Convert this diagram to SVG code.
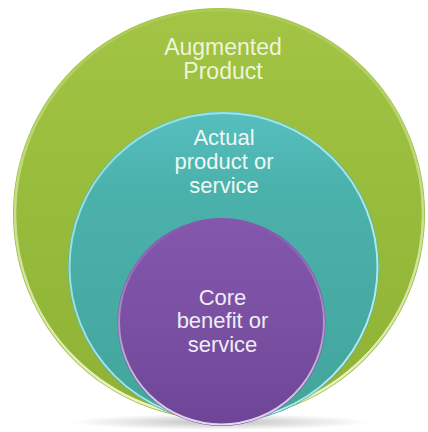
<svg xmlns="http://www.w3.org/2000/svg" width="428" height="432" viewBox="0 0 428 432">
  <defs>
    <linearGradient id="gGreen" x1="0" y1="0" x2="0" y2="1">
      <stop offset="0" stop-color="#a3c444"/>
      <stop offset="0.5" stop-color="#97bb3b"/>
      <stop offset="1" stop-color="#8fb236"/>
    </linearGradient>
    <linearGradient id="gTeal" x1="0" y1="0" x2="0" y2="1">
      <stop offset="0" stop-color="#56bfbf"/>
      <stop offset="0.25" stop-color="#4bb1ab"/>
      <stop offset="1" stop-color="#43a59c"/>
    </linearGradient>
    <linearGradient id="gPurple" x1="0" y1="0" x2="0" y2="1">
      <stop offset="0" stop-color="#8457ad"/>
      <stop offset="0.5" stop-color="#7a50a3"/>
      <stop offset="1" stop-color="#6e4596"/>
    </linearGradient>
    <linearGradient id="rimGreen" x1="0" y1="0" x2="0" y2="1">
      <stop offset="0" stop-color="#d8ecb0" stop-opacity="0.15"/>
      <stop offset="0.4" stop-color="#eef8c8" stop-opacity="0.5"/>
      <stop offset="1" stop-color="#f2fad0" stop-opacity="0.95"/>
    </linearGradient>
    <linearGradient id="rimTeal" x1="0" y1="0" x2="1" y2="1">
      <stop offset="0" stop-color="#9fe8f0" stop-opacity="0.8"/>
      <stop offset="1" stop-color="#c8f4f8" stop-opacity="0.9"/>
    </linearGradient>
    <linearGradient id="rimPurple" x1="0" y1="0" x2="0" y2="1">
      <stop offset="0" stop-color="#c9b3e0" stop-opacity="0"/>
      <stop offset="0.45" stop-color="#d8c8ec" stop-opacity="0.5"/>
      <stop offset="1" stop-color="#ece2f6" stop-opacity="0.95"/>
    </linearGradient>
    <radialGradient id="shadow" cx="0.5" cy="0.5" r="0.5">
      <stop offset="0" stop-color="#000" stop-opacity="0.25"/>
      <stop offset="1" stop-color="#000" stop-opacity="0"/>
    </radialGradient>
  </defs>
  <style>
    .lbl { font-family: "Liberation Sans", Arial, sans-serif; font-size: 22px; text-anchor: middle; }
    .big { font-size: 23px; }
    .g { fill: #eef4d8; }
    .t { fill: #eef8f6; }
    .p { fill: #f0ecf4; }
  </style>
  <rect width="428" height="432" fill="#ffffff"/>
  <ellipse cx="220" cy="422" rx="150" ry="8" fill="url(#shadow)"/>
  <g id="augmented">
    <circle cx="219" cy="214" r="206" fill="url(#gGreen)"/>
    <circle cx="219" cy="214" r="204" fill="none" stroke="url(#rimGreen)" stroke-width="2.5"/>
    <text class="lbl big g" x="223" y="55">Augmented</text>
    <text class="lbl big g" x="223" y="79">Product</text>
  </g>
  <g id="actual">
    <circle cx="223.5" cy="267" r="155.5" fill="url(#gTeal)"/>
    <circle cx="223.5" cy="267" r="154" fill="none" stroke="url(#rimTeal)" stroke-width="2"/>
    <text class="lbl t" x="224" y="145">Actual</text>
    <text class="lbl t" x="224" y="169">product or</text>
    <text class="lbl t" x="224" y="193">service</text>
  </g>
  <g id="core">
    <circle cx="221.5" cy="322" r="104" fill="url(#gPurple)"/>
    <circle cx="221.5" cy="322" r="102.5" fill="none" stroke="url(#rimPurple)" stroke-width="2"/>
    <text class="lbl p" x="222.5" y="305">Core</text>
    <text class="lbl p" x="222.5" y="328">benefit or</text>
    <text class="lbl p" x="222.5" y="352">service</text>
  </g>
</svg>
